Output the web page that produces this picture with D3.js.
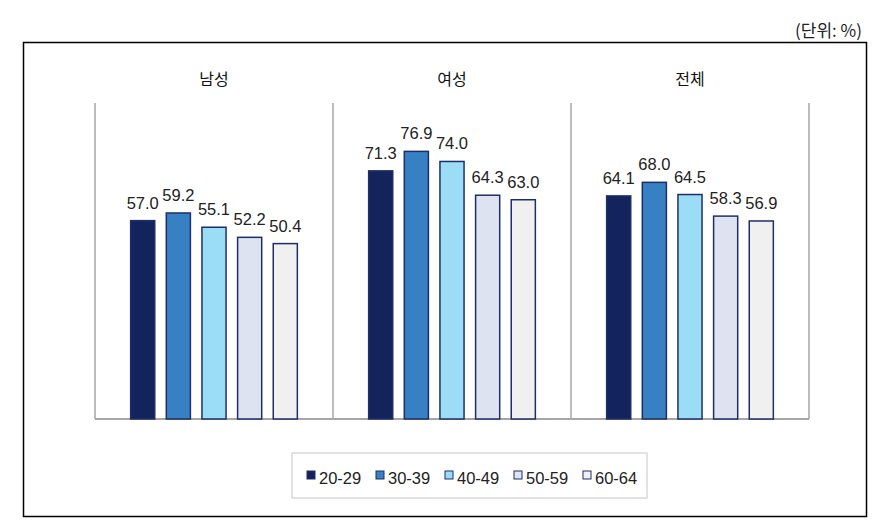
<!DOCTYPE html>
<html>
<head>
<meta charset="utf-8">
<script src="https://cdn.jsdelivr.net/npm/d3@7"></script>
<style>
  body { margin: 0; background: #fff; }
  svg text { font-family: Arial, "Liberation Sans", sans-serif; }
</style>
</head>
<body>
<div id="chart"></div>
<script>
// groups and age bands
const groups = ["남성", "여성", "전체"];
const ages = ["20-29", "30-39", "40-49", "50-59", "60-64"];

// values per age band, in group order
const v2029 = [57.0, 71.3, 64.1];
const v3039 = [59.2, 76.9, 68.0];
const v4049 = [55.1, 74.0, 64.5];
const v5059 = [52.2, 64.3, 58.3];
const v6064 = [50.4, 63.0, 56.9];

const colors = ["#13235c", "#3780c4", "#9bddf6", "#dde3f1", "#f0f0f0"];

const series = [v2029, v3039, v4049, v5059, v6064];
const data = groups.map((g, i) => ({
  group: g,
  values: ages.map((a, j) => ({ age: a, value: series[j][i] }))
}));

const width = 891, height = 526;
const plot = { left: 95, right: 809, top: 103, bottom: 419 };

const svg = d3.select("#chart").append("svg")
  .attr("width", width)
  .attr("height", height);

// outer frame
svg.append("rect")
  .attr("x", 23.5).attr("y", 42.5)
  .attr("width", 843).attr("height", 474)
  .attr("fill", "none")
  .attr("stroke", "#000")
  .attr("stroke-width", 1.5);

svg.append("text")
  .attr("x", 862).attr("y", 37)
  .attr("text-anchor", "end")
  .style("font-family", "'Noto Sans CJK KR', sans-serif")
  .style("font-size", "17px")
  .attr("fill", "#222")
  .text("(단위: %)");

const x0 = d3.scaleBand()
  .domain(groups)
  .range([plot.left, plot.right])
  .paddingInner(0).paddingOuter(0);

const x1 = d3.scaleBand()
  .domain(ages)
  .range([0, x0.bandwidth()])
  .paddingInner(0.324)
  .paddingOuter(1.0);

const y = d3.scaleLinear()
  .domain([0, 90.8])
  .range([plot.bottom, plot.top]);

const color = d3.scaleOrdinal().domain(ages).range(colors);

// panel separators
const seps = groups.map(g => x0(g)).concat([plot.right]);
svg.append("g").selectAll("line")
  .data(seps)
  .join("line")
    .attr("x1", d => d).attr("x2", d => d)
    .attr("y1", plot.top).attr("y2", plot.bottom)
    .attr("stroke", "#a6a6a6")
    .attr("stroke-width", 1.5);

svg.append("line")
  .attr("x1", plot.left).attr("x2", plot.right)
  .attr("y1", plot.bottom).attr("y2", plot.bottom)
  .attr("stroke", "#a6a6a6")
  .attr("stroke-width", 2);

// group titles
svg.append("g").selectAll("text")
  .data(groups)
  .join("text")
    .attr("x", d => x0(d) + x0.bandwidth() / 2)
    .attr("y", 85)
    .attr("text-anchor", "middle")
    .style("font-family", "'Noto Sans CJK KR', sans-serif")
    .style("font-size", "16px")
    .attr("fill", "#111")
    .text(d => d);

const g = svg.append("g").selectAll("g")
  .data(data)
  .join("g")
    .attr("transform", d => `translate(${x0(d.group)},0)`);

g.selectAll("rect")
  .data(d => d.values)
  .join("rect")
    .attr("x", d => x1(d.age))
    .attr("y", d => y(d.value))
    .attr("width", x1.bandwidth())
    .attr("height", d => y(0) - y(d.value))
    .attr("fill", d => color(d.age))
    .attr("stroke", "#1f2f66")
    .attr("stroke-width", 1.5);

g.selectAll("text")
  .data(d => d.values)
  .join("text")
    .attr("x", d => x1(d.age) + x1.bandwidth() / 2)
    .attr("y", d => y(d.value) - 12)
    .attr("text-anchor", "middle")
    .style("font-size", "16.5px")
    .attr("fill", "#222")
    .text(d => d.value.toFixed(1));

// legend
const legend = svg.append("g");
legend.append("rect")
  .attr("x", 292).attr("y", 453)
  .attr("width", 355).attr("height", 45)
  .attr("fill", "#fff")
  .attr("stroke", "#d9d9d9")
  .attr("stroke-width", 1.5);

const legX = d3.scalePoint().domain(ages).range([307, 583]);

const item = legend.selectAll("g")
  .data(ages)
  .join("g")
    .attr("transform", d => `translate(${legX(d)},471)`);

item.append("rect")
  .attr("width", 8).attr("height", 8)
  .attr("fill", d => color(d))
  .attr("stroke", "#1f2f66")
  .attr("stroke-width", 1);

item.append("text")
  .attr("x", 12).attr("y", 12.5)
  .style("font-size", "16.5px")
  .attr("fill", "#222")
  .text(d => d);
</script>
</body>
</html>
